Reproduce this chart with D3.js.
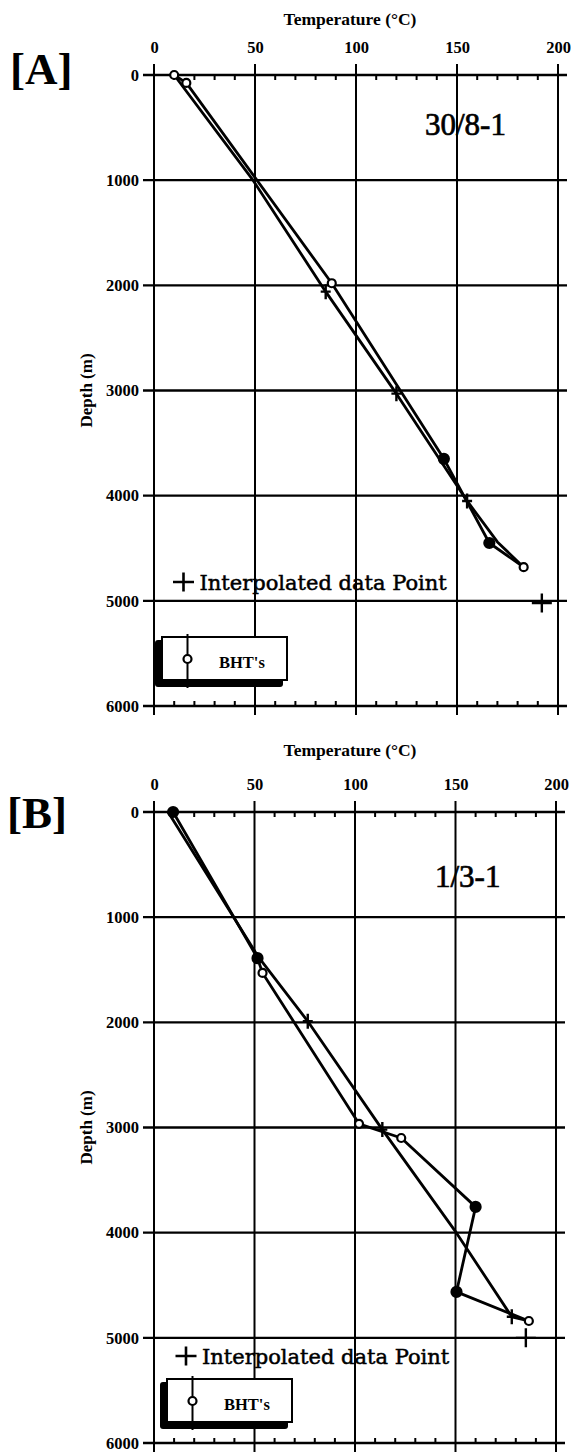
<!DOCTYPE html>
<html>
<head>
<meta charset="utf-8">
<script src="https://cdn.jsdelivr.net/npm/d3@7"></script>
<style>body{margin:0;background:#fff}</style>
</head>
<body>
<script>
var w = 574;
var h = 1452;

var tempTicks = [0, 50, 100, 150, 200];
var depthTicks = [0, 1000, 2000, 3000, 4000, 5000, 6000];

// well 30/8-1 : BHT line and interpolated line
var aBhtTemp  = [10, 16, 88, 143.5, 166, 183];
var aBhtDepth = [0, 75, 1980, 3650, 4450, 4680];
var aBhtFill  = [0, 0, 0, 1, 1, 0];
var aIntTemp  = [10, 49, 85, 120, 155, 170, 183];
var aIntDepth = [0, 1000, 2060, 3030, 4050, 4440, 4680];
var aIntMark  = [0, 0, 1, 1, 1, 0, 0];
var aPtTemp   = [192];
var aPtDepth  = [5020];

// well 1/3-1
var bBhtTemp  = [9.5, 51.5, 54, 102, 123, 160, 150.5, 186.5];
var bBhtDepth = [0, 1390, 1530, 2965, 3100, 3755, 4563, 4840];
var bBhtFill  = [1, 1, 0, 0, 0, 1, 1, 0];
var bIntTemp  = [7, 52, 76.5, 113.6, 150.4, 178, 186.5];
var bIntDepth = [0, 1380, 1990, 3020, 4000, 4800, 4840];
var bIntMark  = [0, 0, 1, 1, 0, 1, 0];
var bPtTemp   = [185];
var bPtDepth  = [5000];

var svg = d3.select("body")
    .append("svg")
    .attr("width", w)
    .attr("height", h);

function cross(cx, cy, hw, hh) {
    return "M" + (cx - hw) + "," + cy + "H" + (cx + hw) + "M" + cx + "," + (cy - hh) + "V" + (cy + hh);
}

function panel(c) {
    var x = d3.scaleLinear().domain([0, 200]).range([c.left, c.right]);
    var y = d3.scaleLinear().domain([0, 6000]).range([c.top, c.bottom]);
    var g = svg.append("g");

    // grid
    g.selectAll(".hg").data(depthTicks).enter().append("line")
        .attr("x1", c.left - 11).attr("x2", c.right + 9)
        .attr("y1", function(d){ return y(d); })
        .attr("y2", function(d){ return y(d); })
        .attr("stroke", "#000").attr("stroke-width", 2.4);
    g.selectAll(".vg").data(tempTicks).enter().append("line")
        .attr("y1", c.top - 11).attr("y2", c.bottom + 9)
        .attr("x1", function(d){ return x(d); })
        .attr("x2", function(d){ return x(d); })
        .attr("stroke", "#000").attr("stroke-width", 2);

    var minor = d3.range(10, 200, 10).filter(function(d){ return d % 50 != 0; });
    g.selectAll(".mt").data(minor).enter().append("line")
        .attr("x1", function(d){ return x(d); })
        .attr("x2", function(d){ return x(d); })
        .attr("y1", c.top).attr("y2", c.top + 5)
        .attr("stroke", "#000").attr("stroke-width", 2);
    g.selectAll(".mb").data(minor).enter().append("line")
        .attr("x1", function(d){ return x(d); })
        .attr("x2", function(d){ return x(d); })
        .attr("y1", c.bottom).attr("y2", c.bottom - 5)
        .attr("stroke", "#000").attr("stroke-width", 2);

    // axis labels
    var ax = g.append("g")
        .attr("transform", "translate(0," + (c.top - 22) + ")")
        .call(d3.axisTop(x).tickValues(tempTicks).tickSize(0).tickPadding(0));
    var ay = g.append("g")
        .attr("transform", "translate(" + (c.left - 15) + ",0)")
        .call(d3.axisLeft(y).tickValues(depthTicks).tickSize(0).tickPadding(0).tickFormat(d3.format("d")));
    [ax, ay].forEach(function(a){
        a.select(".domain").remove();
        a.attr("font-family", "'Liberation Serif', serif")
         .attr("font-size", 16.5)
         .attr("font-weight", "bold");
        a.selectAll("text").attr("fill", "#000");
    });

    g.append("text")
        .attr("x", 350).attr("y", c.titleY)
        .attr("text-anchor", "middle")
        .attr("font-family", "'Liberation Serif', serif")
        .attr("font-size", 17.5).attr("font-weight", "bold")
        .text("Temperature (°C)");

    g.append("text")
        .attr("transform", "translate(92," + y(3000) + ") rotate(-90)")
        .attr("text-anchor", "middle")
        .attr("font-family", "'Liberation Serif', serif")
        .attr("font-size", 17).attr("font-weight", "bold")
        .text("Depth (m)");

    g.append("text")
        .attr("x", c.labelX).attr("y", c.labelY)
        .attr("font-family", "'Liberation Serif', serif")
        .attr("font-size", 45).attr("font-weight", "bold")
        .text(c.label);

    g.append("text")
        .attr("x", c.wellX).attr("y", c.wellY)
        .attr("font-family", "'Liberation Serif', serif")
        .attr("font-size", 31)
        .attr("stroke", "#000").attr("stroke-width", 0.7)
        .text(c.well);

    // data lines
    var line = d3.line()
        .x(function(d){ return x(d[0]); })
        .y(function(d){ return y(d[1]); });
    var bht = d3.zip(c.bhtT, c.bhtD, c.bhtF);
    var itp = d3.zip(c.intT, c.intD, c.intM);

    [itp, bht].forEach(function(pts){
        g.append("path")
            .attr("d", line(pts))
            .attr("fill", "none")
            .attr("stroke", "#000")
            .attr("stroke-width", 2.8)
            .attr("stroke-linejoin", "round");
    });

    g.selectAll(".cm").data(itp.filter(function(d){ return d[2]; })).enter().append("path")
        .attr("d", function(d){ return cross(x(d[0]), y(d[1]), 5, 7.5); })
        .attr("stroke", "#000").attr("stroke-width", 2.4);

    g.selectAll(".pt").data(d3.zip(c.ptT, c.ptD)).enter().append("path")
        .attr("d", function(d){ return cross(x(d[0]), y(d[1]), 10, 9.5); })
        .attr("stroke", "#000").attr("stroke-width", 2.4);

    g.selectAll(".bm").data(bht).enter().append("circle")
        .attr("cx", function(d){ return x(d[0]); })
        .attr("cy", function(d){ return y(d[1]); })
        .attr("r", function(d){ return d[2] ? 5 : 4; })
        .attr("fill", function(d){ return d[2] ? "#000" : "#fff"; })
        .attr("stroke", "#000").attr("stroke-width", 2.2);

    // interpolated point key
    g.append("path")
        .attr("d", cross(c.keyX, c.keyY, 10.5, 9.5))
        .attr("stroke", "#000").attr("stroke-width", 2.6);
    g.append("text")
        .attr("x", c.keyX + 16).attr("y", c.keyY + 7.5)
        .attr("font-family", "'DejaVu Serif', serif")
        .attr("font-size", 21)
        .attr("stroke", "#000").attr("stroke-width", 0.5)
        .text("Interpolated data Point");

    // BHT legend box with shadow
    var bx = c.boxX, by = c.boxY, bw = 125, bh = 43;
    g.append("rect")
        .attr("x", bx - 7).attr("y", by + 3)
        .attr("width", bw + 3).attr("height", bh + 4)
        .attr("rx", 3).attr("fill", "#000");
    g.append("rect")
        .attr("x", bx).attr("y", by)
        .attr("width", bw).attr("height", bh)
        .attr("fill", "#fff").attr("stroke", "#000").attr("stroke-width", 2);
    g.append("line")
        .attr("x1", bx + 25.5).attr("x2", bx + 25.5)
        .attr("y1", by - 3).attr("y2", by + bh + 8)
        .attr("stroke", "#000").attr("stroke-width", 2);
    g.append("circle")
        .attr("cx", bx + 25.5).attr("cy", by + 22)
        .attr("r", 4).attr("fill", "#fff")
        .attr("stroke", "#000").attr("stroke-width", 2.2);
    g.append("text")
        .attr("x", bx + 57).attr("y", by + 31)
        .attr("font-family", "'Liberation Serif', serif")
        .attr("font-size", 16.5).attr("font-weight", "bold")
        .text("BHT's");
}

panel({
    top: 75, bottom: 706, left: 154, right: 558,
    titleY: 25, label: "[A]", labelX: 10, labelY: 84,
    well: "30/8-1", wellX: 425, wellY: 135,
    bhtT: aBhtTemp, bhtD: aBhtDepth, bhtF: aBhtFill,
    intT: aIntTemp, intD: aIntDepth, intM: aIntMark,
    ptT: aPtTemp, ptD: aPtDepth,
    keyX: 183.5, keyY: 582, boxX: 162, boxY: 637
});

panel({
    top: 812, bottom: 1443, left: 154, right: 556,
    titleY: 756, label: "[B]", labelX: 7, labelY: 828,
    well: "1/3-1", wellX: 435, wellY: 887,
    bhtT: bBhtTemp, bhtD: bBhtDepth, bhtF: bBhtFill,
    intT: bIntTemp, intD: bIntDepth, intM: bIntMark,
    ptT: bPtTemp, ptD: bPtDepth,
    keyX: 186, keyY: 1356, boxX: 167, boxY: 1379
});
</script>
</body>
</html>
